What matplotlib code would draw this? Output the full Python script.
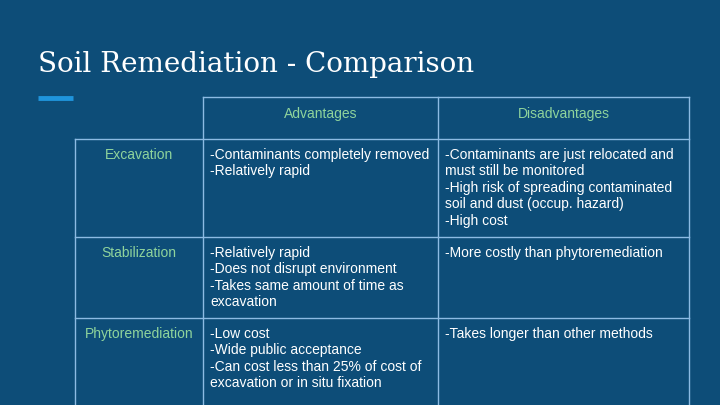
import matplotlib
matplotlib.use("Agg")
import matplotlib.pyplot as plt

title = "Soil Remediation - Comparison"
headers = ["Advantages", "Disadvantages"]
rows = ["Excavation", "Stabilization", "Phytoremediation"]
advantages = [
    "-Contaminants completely removed\n-Relatively rapid",
    "-Relatively rapid\n-Does not disrupt environment\n-Takes same amount of time as\nexcavation",
    "-Low cost\n-Wide public acceptance\n-Can cost less than 25% of cost of\nexcavation or in situ fixation",
]
disadvantages = [
    "-Contaminants are just relocated and\nmust still be monitored\n-High risk of spreading contaminated\nsoil and dust (occup. hazard)\n-High cost",
    "-More costly than phytoremediation",
    "-Takes longer than other methods",
]

bg = "#0d4d78"
line_c = "#8cbbe3"
green = "#8fd49c"

# layout in pixels
col_x = [75, 203, 438, 689]
row_y = [97, 139, 237, 318, 420]

fig = plt.figure(figsize=(7.2, 4.05), dpi=100, facecolor=bg)
ax = fig.add_axes([0, 0, 1, 1])
ax.set_xlim(0, 720)
ax.set_ylim(405, 0)
ax.axis("off")
ax.set_facecolor(bg)

ax.text(38, 65, title, fontsize=20, family="DejaVu Serif", color="white", va="center")
ax.plot([38, 73], [98, 98], color="#1f94dc", lw=3.5, solid_capstyle="butt")

# grid lines
ax.plot([col_x[1], col_x[3]], [row_y[0], row_y[0]], color=line_c, lw=1)
for y in row_y[1:4]:
    ax.plot([col_x[0], col_x[3]], [y, y], color=line_c, lw=1)
ax.plot([col_x[0], col_x[0]], [row_y[1], row_y[4]], color=line_c, lw=1)
for x in col_x[1:]:
    ax.plot([x, x], [row_y[0], row_y[4]], color=line_c, lw=1)

fs = 10
fam = "Liberation Sans"
for i, h in enumerate(headers):
    ax.text((col_x[i + 1] + col_x[i + 2]) / 2, 114, h, fontsize=fs, family=fam,
            color=green, ha="center", va="center")
for r, name in enumerate(rows):
    top = row_y[r + 1] + 9
    ax.text((col_x[0] + col_x[1]) / 2, top, name, fontsize=fs, family=fam,
            color=green, ha="center", va="top")
    ax.text(col_x[1] + 7, top, advantages[r], fontsize=fs, family=fam,
            color="white", ha="left", va="top", linespacing=1.22)
    ax.text(col_x[2] + 7, top, disadvantages[r], fontsize=fs, family=fam,
            color="white", ha="left", va="top", linespacing=1.22)

fig.savefig("out.png", dpi=100, facecolor=bg)
